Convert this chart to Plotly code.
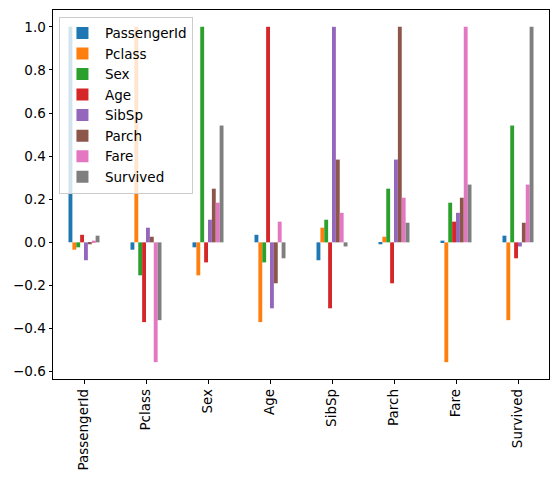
import plotly.graph_objects as go

# correlation matrix of the titanic columns
columns = ["PassengerId", "Pclass", "Sex", "Age", "SibSp", "Parch", "Fare", "Survived"]

PassengerId = [1.0, -0.034, -0.023, 0.035, -0.083, -0.009, 0.008, 0.031]
Pclass = [-0.034, 1.0, -0.153, -0.370, 0.068, 0.026, -0.556, -0.361]
Sex = [-0.023, -0.153, 1.0, -0.093, 0.105, 0.249, 0.184, 0.542]
Age = [0.035, -0.370, -0.093, 1.0, -0.306, -0.190, 0.096, -0.074]
SibSp = [-0.083, 0.068, 0.105, -0.306, 1.0, 0.384, 0.137, -0.019]
Parch = [-0.009, 0.026, 0.249, -0.190, 0.384, 1.0, 0.207, 0.091]
Fare = [0.008, -0.556, 0.184, 0.096, 0.137, 0.207, 1.0, 0.268]
Survived = [0.031, -0.361, 0.542, -0.074, -0.019, 0.091, 0.268, 1.0]

series = [PassengerId, Pclass, Sex, Age, SibSp, Parch, Fare, Survived]
colors = ["#1f77b4", "#ff7f0e", "#2ca02c", "#d62728",
          "#9467bd", "#8c564b", "#e377c2", "#7f7f7f"]

fig = go.Figure()
for name, vals, col in zip(columns, series, colors):
    fig.add_trace(go.Bar(x=columns, y=vals, name=name,
                         marker=dict(color=col, line=dict(width=0))))

# page body has an 8px margin, so the figure is a bit smaller than the window
fig.update_layout(
    width=551, height=475,
    margin=dict(l=45, r=10, t=2, b=104),
    barmode="group", bargap=0.5, bargroupgap=0,
    plot_bgcolor="white", paper_bgcolor="white",
    font=dict(family="DejaVu Sans", size=13.5, color="black"),
    showlegend=True,
    legend=dict(x=0.012, y=0.982, xanchor="left", yanchor="top",
                bgcolor="rgba(255,255,255,0.8)", bordercolor="#cccccc",
                borderwidth=1, font=dict(size=13.5), tracegroupgap=0,
                itemwidth=35),
)
fig.update_xaxes(range=[-0.5, 7.5], tickangle=-90, showline=True, linecolor="black",
                 mirror=True, ticks="outside", ticklen=3.5, tickcolor="black",
                 showgrid=False, automargin=False)
fig.update_yaxes(range=[-0.634, 1.078], tickvals=[-0.6, -0.4, -0.2, 0.0, 0.2, 0.4, 0.6, 0.8, 1.0],
                 ticktext=["\u22120.6", "\u22120.4", "\u22120.2", "0.0", "0.2", "0.4", "0.6", "0.8", "1.0"],
                 showline=True, linecolor="black", mirror=True, ticks="outside",
                 ticklen=3.5, tickcolor="black", showgrid=False, zeroline=False,
                 automargin=False)

fig.write_html("out.html")
